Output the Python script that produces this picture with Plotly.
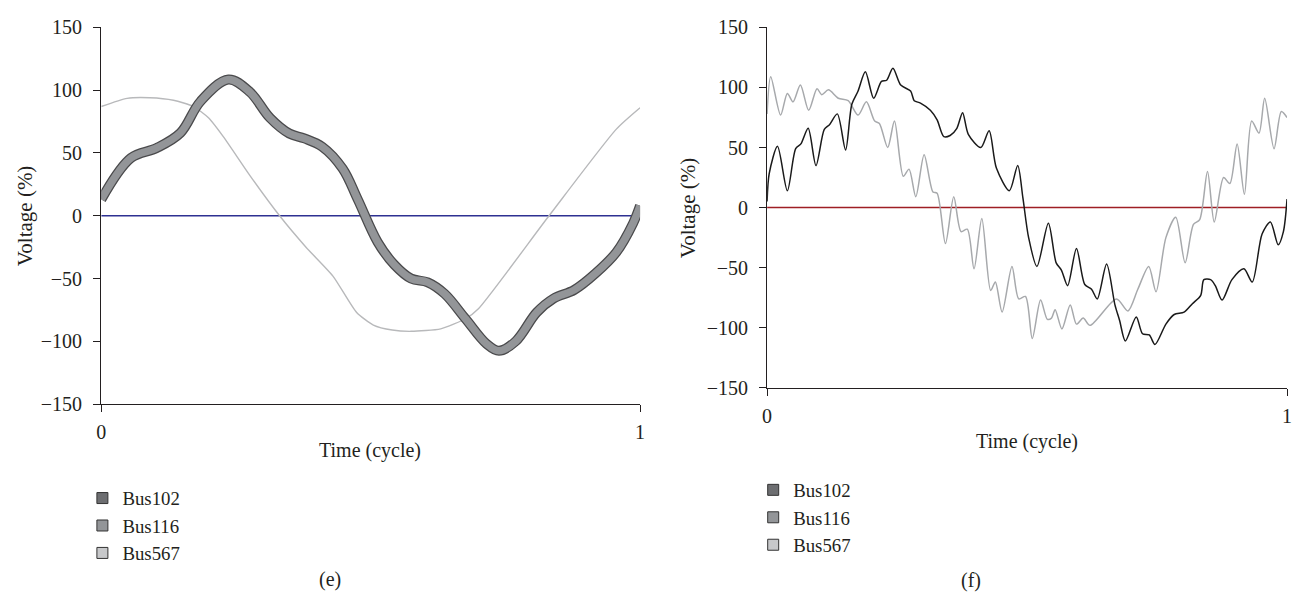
import plotly.graph_objects as go

# ---------------- data ----------------
# Panel (e): Bus102 / Bus116 overlap as one thick band
E_BAND_T = [0.0, 0.055, 0.103, 0.147, 0.184, 0.236, 0.276, 0.313, 0.349, 0.377, 0.41, 0.448,
            0.476, 0.513, 0.544, 0.575, 0.606, 0.637, 0.676, 0.715, 0.738, 0.769, 0.808, 0.839,
            0.878, 0.917, 0.956, 0.987, 1.0]
E_BUS102 = [13, 46, 54, 66, 91, 108.5, 98.5, 78, 65.5, 61.6, 55, 37.5,
            13, -21, -39, -50, -53, -62, -82, -102, -107.5, -100, -77, -66,
            -59, -46, -29, -6, 8]
E_BUS116 = [13, 46, 54, 66, 91, 108.5, 98.5, 78, 65.5, 61.6, 55, 37.5,
            13, -21, -39, -50, -53, -62, -82, -102, -107.5, -100, -77, -66,
            -59, -46, -29, -6, 8]
E_BUS567_T = [0.0, 0.048, 0.09, 0.134, 0.171, 0.199, 0.2265, 0.276, 0.331, 0.38, 0.43, 0.474,
              0.505, 0.54, 0.575, 0.63, 0.676, 0.70, 0.831, 0.956, 1.0]
E_BUS567 = [87, 93.5, 94, 92, 87, 78, 63, 32, 0, -25, -48, -77,
            -87, -91, -92, -90, -82, -74, 0, 69, 86]

# Panel (f)
F_BUS102_T = [0.0, 0.004, 0.02, 0.039, 0.055, 0.065, 0.079, 0.094, 0.11, 0.12, 0.135, 0.151,
              0.163, 0.175, 0.189, 0.205, 0.22, 0.23, 0.242, 0.257, 0.276, 0.283, 0.295, 0.314,
              0.327, 0.34, 0.352, 0.365, 0.376, 0.387, 0.411, 0.427, 0.441, 0.466, 0.482, 0.492,
              0.503, 0.519, 0.541, 0.556, 0.566, 0.578, 0.595, 0.611, 0.624, 0.635, 0.653, 0.669,
              0.678, 0.689, 0.71, 0.722, 0.735, 0.746, 0.767, 0.783, 0.802, 0.818, 0.834, 0.84,
              0.853, 0.862, 0.875, 0.894, 0.917, 0.933, 0.952, 0.968, 0.983, 0.993, 1.0]
F_BUS102 = [5, 28, 51, 14, 49, 53, 66, 35, 65, 69, 78, 48,
            86, 97, 113, 91, 105, 106, 116, 102, 97, 89, 87, 81,
            73, 59, 60, 66, 79, 61, 50, 64, 33, 14, 35, 8,
            -25, -49, -13, -46, -52, -65, -34, -64, -68, -76, -47, -81,
            -94, -111, -91, -105, -106, -114, -97, -89, -87, -80, -73, -60,
            -60, -65, -77, -60, -51, -62, -22, -12, -31, -20, 7]
F_BUS567_T = [0.0, 0.007, 0.026, 0.039, 0.05, 0.064, 0.08, 0.096, 0.105, 0.118, 0.137, 0.156,
              0.175, 0.191, 0.207, 0.216, 0.232, 0.245, 0.262, 0.273, 0.286, 0.302, 0.319, 0.327,
              0.343, 0.359, 0.373, 0.385, 0.398, 0.413, 0.43, 0.439, 0.452, 0.471, 0.484, 0.497,
              0.51, 0.526, 0.539, 0.547, 0.554, 0.567, 0.583, 0.595, 0.608, 0.621, 0.672, 0.694,
              0.713, 0.734, 0.748, 0.767, 0.786, 0.804, 0.82, 0.832, 0.847, 0.86, 0.878, 0.89,
              0.904, 0.918, 0.932, 0.946, 0.957, 0.975, 0.989, 1.0]
F_BUS567 = [78, 109, 77, 95, 88, 102, 81, 99, 94, 98, 91, 89,
            77, 88, 72, 70, 50, 72, 26, 32, 9, 44, 13, 12,
            -30, 9, -20, -18, -51, -9, -69, -62, -87, -49, -76, -74,
            -109, -77, -93, -92, -85, -101, -81, -97, -92, -98, -76, -86,
            -68, -49, -70, -25, -8, -46, -14, -10, 30, -12, 25, 20,
            53, 11, 72, 62, 91, 49, 80, 75]

ZERO_T = [0, 1]
ZERO_V = [0, 0]

LEGEND_NAMES = ["Bus102", "Bus116", "Bus567"]
LEGEND_COLORS = ["#6d6e71", "#939598", "#c7c8ca"]

X_TICKS = [0, 1]
Y_TICKS = [-150, -100, -50, 0, 50, 100, 150]
Y_TICKTEXT = ["\u2212150", "\u2212100", "\u221250", "0", "50", "100", "150"]

# ---------------- figure ----------------
W, H = 1298, 605
FONT = "Liberation Serif"
INK = "#231f20"
FS = 20

def px(x):
    return x / W

def py(y):
    return 1 - y / H

fig = go.Figure()

# panel (e)
fig.add_trace(go.Scatter(x=ZERO_T, y=ZERO_V, mode="lines", line=dict(color="#2e3192", width=1.3),
                         showlegend=False, hoverinfo="skip", xaxis="x", yaxis="y"))
fig.add_trace(go.Scatter(x=E_BUS567_T, y=E_BUS567, mode="lines",
                         line=dict(color="#b8b9bb", width=1.4, shape="spline", smoothing=0.6),
                         showlegend=False, xaxis="x", yaxis="y"))
fig.add_trace(go.Scatter(x=E_BAND_T, y=E_BUS102, mode="lines",
                         line=dict(color="#4a4a4c", width=10, shape="spline", smoothing=1.0),
                         showlegend=False, xaxis="x", yaxis="y"))
fig.add_trace(go.Scatter(x=E_BAND_T, y=E_BUS116, mode="lines",
                         line=dict(color="#939598", width=7.5, shape="spline", smoothing=1.0),
                         showlegend=False, xaxis="x", yaxis="y"))

# panel (f)
fig.add_trace(go.Scatter(x=ZERO_T, y=ZERO_V, mode="lines", line=dict(color="#9e1f24", width=1.5),
                         showlegend=False, hoverinfo="skip", xaxis="x2", yaxis="y2"))
fig.add_trace(go.Scatter(x=F_BUS567_T, y=F_BUS567, mode="lines",
                         line=dict(color="#a7a9ac", width=1.5, shape="spline", smoothing=0.8),
                         showlegend=False, xaxis="x2", yaxis="y2"))
fig.add_trace(go.Scatter(x=F_BUS102_T, y=F_BUS102, mode="lines",
                         line=dict(color="#1a1a1a", width=1.5, shape="spline", smoothing=0.8),
                         showlegend=False, xaxis="x2", yaxis="y2"))

# legend entries (square swatches)
for lg, xa, ya in (("legend", "x", "y"), ("legend2", "x2", "y2")):
    for name, col in zip(LEGEND_NAMES, LEGEND_COLORS):
        fig.add_trace(go.Scatter(x=[None], y=[None], mode="markers", name=name,
                                 marker=dict(symbol="square", size=11, color=col,
                                             line=dict(color="#333333", width=1)),
                                 legend=lg, xaxis=xa, yaxis=ya))

xcommon = dict(range=[0, 1], tickvals=X_TICKS, ticktext=["0", "1"], ticks="outside", ticklen=7,
               tickcolor=INK, showline=True, linecolor=INK, linewidth=1.3, showgrid=False,
               zeroline=False, tickfont=dict(family=FONT, size=FS, color=INK), fixedrange=True,
               ticklabelstandoff=3)
ycommon = dict(range=[-150, 150], tickvals=Y_TICKS, ticktext=Y_TICKTEXT, ticks="outside", ticklen=7,
               tickcolor=INK, showline=True, linecolor=INK, linewidth=1.3, showgrid=False,
               zeroline=False, tickfont=dict(family=FONT, size=FS, color=INK), fixedrange=True,
               ticklabelstandoff=7)

LEG_FONT = dict(family=FONT, size=18.8, color=INK)


def label(text, x, y, size=FS, angle=0):
    return dict(text=text, x=px(x), y=py(y), xref="paper", yref="paper",
                xanchor="center", yanchor="middle", textangle=angle,
                showarrow=False, font=dict(family=FONT, size=size, color=INK))


fig.update_layout(
    width=W, height=H, margin=dict(l=0, r=0, t=0, b=0),
    paper_bgcolor="white", plot_bgcolor="white",
    font=dict(family=FONT, size=FS, color=INK),
    xaxis=dict(domain=[px(97), px(640)], anchor="y", **xcommon),
    yaxis=dict(domain=[py(408), py(17)], anchor="x", **ycommon),
    xaxis2=dict(domain=[px(768), px(1292)], anchor="y2", **xcommon),
    yaxis2=dict(domain=[py(391), py(17)], anchor="x2", **ycommon),
    legend=dict(x=px(78), y=py(486), xanchor="left", yanchor="top", bgcolor="rgba(0,0,0,0)",
                font=LEG_FONT, tracegroupgap=0, itemclick=False),
    legend2=dict(x=px(754), y=py(477.5), xanchor="left", yanchor="top", bgcolor="rgba(0,0,0,0)",
                 font=LEG_FONT, tracegroupgap=0, itemclick=False),
    annotations=[
        label("Time (cycle)", 368, 456),
        label("Time (cycle)", 1030, 447),
        label("Voltage (%)", 20, 212, size=21, angle=-90),
        label("Voltage (%)", 688, 204, size=21, angle=-90),
        label("(e)", 328, 590),
        label("(f)", 973, 591),
    ],
)

fig.write_html("out.html")
